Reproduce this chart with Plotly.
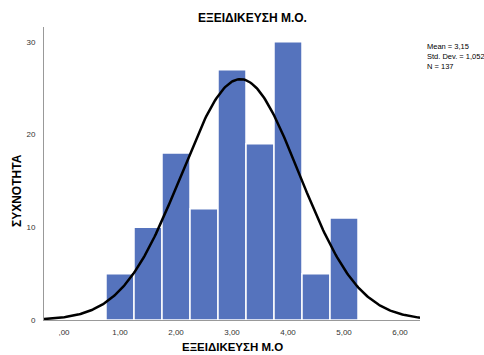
import numpy as np
import plotly.graph_objects as go

# Data
bin_left_edges = [0.75, 1.25, 1.75, 2.25, 2.75, 3.25, 3.75, 4.25, 4.75]
bin_width = 0.5
counts = [5, 10, 18, 12, 27, 19, 30, 5, 11]
mean_val = 3.15
std_val = 1.052
n_val = 137
x_tick_vals = [0, 1, 2, 3, 4, 5, 6]
x_tick_text = [",00", "1,00", "2,00", "3,00", "4,00", "5,00", "6,00"]
y_tick_vals = [0, 10, 20, 30]

x_range = [-0.357, 6.357]
centers = [e + bin_width / 2 for e in bin_left_edges]

# Normal curve scaled from the reported statistics
xs = np.linspace(x_range[0], x_range[1], 300)
ys = n_val * bin_width / (std_val * np.sqrt(2 * np.pi)) * np.exp(-0.5 * ((xs - mean_val) / std_val) ** 2)

stats_text = ("Mean = " + f"{mean_val:.2f}".replace(".", ",") + "<br>"
              + "Std. Dev. = " + f"{std_val:.3f}".replace(".", ",") + "<br>"
              + f"N = {n_val}")

fig = go.Figure()
fig.add_trace(go.Bar(
    x=centers, y=counts, width=bin_width,
    marker=dict(color="#5573BD", line=dict(color="white", width=1.5)),
    hoverinfo="skip",
))
fig.add_trace(go.Scatter(
    x=xs, y=ys, mode="lines",
    line=dict(color="black", width=2.5),
    hoverinfo="skip",
))

fig.update_layout(
    width=484, height=355,
    margin=dict(l=44, r=64, t=27, b=35),
    paper_bgcolor="white", plot_bgcolor="white",
    showlegend=False,
    font=dict(family="Liberation Sans, Arial", color="#333333", size=9),
    xaxis=dict(
        range=x_range, tickvals=x_tick_vals, ticktext=x_tick_text,
        showgrid=False, zeroline=False, showline=True, linecolor="#999999", linewidth=1,
        ticks="", tickfont=dict(size=8, color="#333333"), ticklabelstandoff=4,
    ),
    yaxis=dict(
        range=[0, 31.6], tickvals=y_tick_vals,
        showgrid=False, zeroline=False, showline=True, linecolor="#999999", linewidth=1,
        ticks="", tickfont=dict(size=8, color="#333333"), ticklabelstandoff=6,
    ),
    annotations=[
        dict(text="<b>ΕΞΕΙΔΙΚΕΥΣΗ Μ.Ο.</b>", xref="paper", yref="paper",
             x=(252 - 44) / 376, y=1 + (27 - 18) / 293, showarrow=False,
             font=dict(size=12, color="black"), xanchor="center", yanchor="middle"),
        dict(text="<b>ΕΞΕΙΔΙΚΕΥΣΗ Μ.Ο</b>", xref="paper", yref="paper",
             x=(232 - 44) / 376, y=-(347 - 320) / 293, showarrow=False,
             font=dict(size=11.5, color="black"), xanchor="center", yanchor="middle"),
        dict(text="<b>ΣΥΧΝΟΤΗΤΑ</b>", xref="paper", yref="paper", textangle=-90,
             x=-(44 - 17) / 376, y=(320 - 190) / 293, showarrow=False,
             font=dict(size=12, color="black"), xanchor="center", yanchor="middle"),
        dict(text=stats_text,
             xref="paper", yref="paper", x=(425 - 44) / 376, y=(320 - 40) / 293,
             showarrow=False, align="left", xanchor="left", yanchor="top",
             font=dict(size=7.5, color="black")),
    ],
)

fig.write_html("out.html")
